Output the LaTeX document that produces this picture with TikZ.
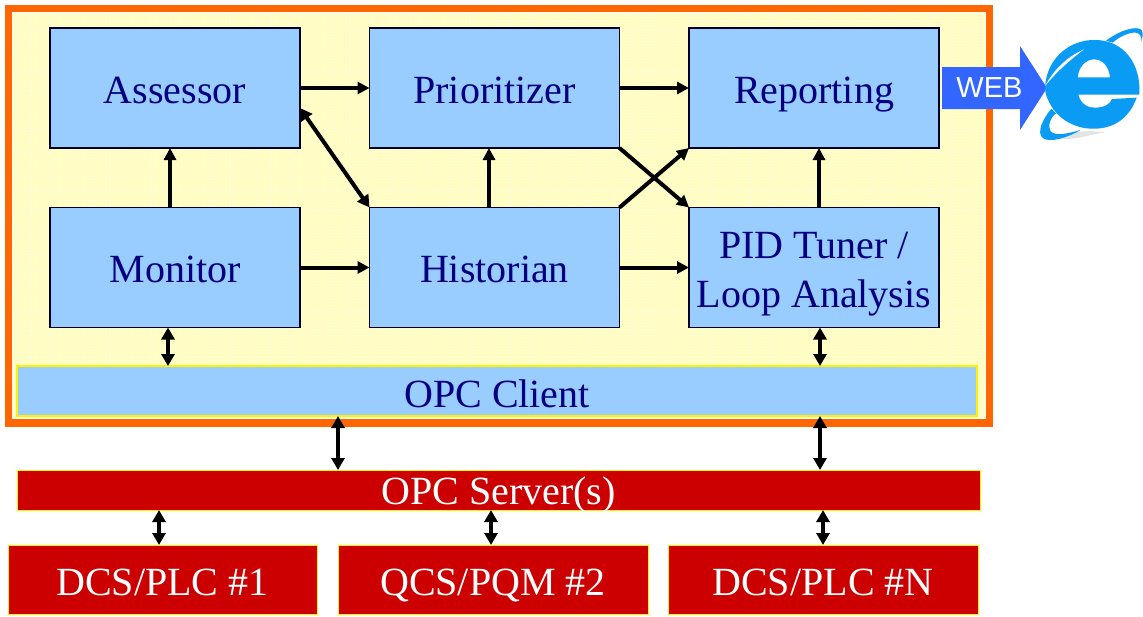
\documentclass[tikz,border=0pt]{standalone}
\usepackage{fontspec}
\setmainfont{Liberation Serif}
\newfontfamily\websans{Liberation Sans}
\usetikzlibrary{arrows.meta,patterns}
\definecolor{navytext}{HTML}{000080}
\definecolor{boxblue}{HTML}{99CCFF}
\definecolor{redbox}{HTML}{CC0000}
\definecolor{frameorange}{HTML}{FF6600}
\definecolor{paleyellow}{HTML}{FFFDBE}
\definecolor{ieblue}{HTML}{0A9BF5}
\definecolor{webblue}{HTML}{3366FF}
\tikzset{
  x=1pt,y=-1pt,
  lbl/.style={font=\fontsize{40}{49}\selectfont,text=navytext,align=center},
  oneline/.style={text height=32pt,text depth=0pt},
  modline/.style={text height=30pt,text depth=0pt},
  modbox/.style={lbl,draw=black!85!blue,line width=1.3pt,fill=boxblue,outer sep=0pt,inner sep=0pt,minimum width=250pt,minimum height=120pt},
  clientbox/.style={lbl,oneline,draw=yellow,line width=1.2pt,fill=boxblue,outer sep=0pt,inner sep=0pt},
  redstrip/.style={font=\fontsize{40}{49}\selectfont,text=white,draw=yellow,line width=1pt,fill=redbox,outer sep=0pt,inner sep=0pt},
  oneway/.style={line width=4pt,-{Triangle[length=12pt,width=12pt]}},
  twoway/.style={line width=4pt,{Triangle[length=12pt,width=13pt]}-{Triangle[length=12pt,width=13pt]}},
}
\begin{document}
\begin{tikzpicture}
\useasboundingbox (0,0) rectangle (1143,616);
% frame
\fill[white] (0,0) rectangle (1143,616);
\fill[frameorange] (5,5) rectangle (993,427);
\fill[white] (12,12) rectangle (986,419);
\fill[paleyellow] (13,13) rectangle (985,418);
\fill[pattern=crosshatch dots,pattern color=white!70!paleyellow] (13,13) rectangle (985,418);
\foreach \gx in {30,50,...,980} \draw[white!25!paleyellow,line width=.5pt] (\gx,13) -- (\gx,418);
\foreach \gy in {30,50,...,410} \draw[white!25!paleyellow,line width=.5pt] (13,\gy) -- (985,\gy);
% modules
\node[modbox,modline] (assessor) at (175,88) {Assessor};
\node[modbox,modline] (prior) at (494.5,88) {Prioritizer};
\node[modbox,modline] (report) at (814,88) {Reporting};
\node[modbox,modline] (monitor) at (175,267.5) {Monitor};
\node[modbox,modline] (hist) at (494.5,267.5) {Historian};
\node[modbox] (pid) at (814,267.5) {\parbox{245pt}{\centering\rule{0pt}{40pt}PID Tuner /\\Loop Analysis}};
\node[clientbox,minimum width=960pt,minimum height=50pt] (client) at (497,391) {OPC Client};
\node[redstrip,text height=28pt,text depth=0pt,minimum width=963pt,minimum height=40pt] (server) at (498.5,490) {OPC Server(s)};
\node[redstrip,oneline,minimum width=309pt,minimum height=69pt] (dcs1) at (162.5,579.5) {DCS/PLC \#1};
\node[redstrip,oneline,minimum width=310pt,minimum height=69pt] (qcs) at (493,579.5) {QCS/PQM \#2};
\node[redstrip,oneline,minimum width=310pt,minimum height=69pt] (dcsn) at (823,579.5) {DCS/PLC \#N};
% connectors
\draw[oneway] (assessor.east) -- (prior.west);
\draw[oneway] (prior.east) -- (report.west);
\draw[oneway] (monitor.east) -- (hist.west);
\draw[oneway] (hist.east) -- (pid.west);
\draw[oneway] ([xshift=-5pt]monitor.north) -- ([xshift=-5pt]assessor.south);
\draw[oneway] ([xshift=-5.5pt]hist.north) -- ([xshift=-5.5pt]prior.south);
\draw[oneway] ([xshift=5pt]pid.north) -- ([xshift=5pt]report.south);
\draw[oneway] (prior.south east) -- (pid.north west);
\draw[oneway] (hist.north east) -- (report.south west);
\draw[twoway] ([yshift=-20pt]assessor.east) -- (hist.north west);
\draw[twoway] ([xshift=-7pt]monitor.south) -- ([xshift=-329pt]client.north);
\draw[twoway] ([xshift=6pt]pid.south) -- ([xshift=323pt]client.north);
\draw[twoway] ([xshift=-159pt]client.south) -- ([xshift=-160.5pt]server.north);
\draw[twoway] ([xshift=323pt]client.south) -- ([xshift=321.5pt]server.north);
\draw[twoway] ([xshift=-339.5pt]server.south) -- ([xshift=-3.5pt]dcs1.north);
\draw[twoway] ([xshift=-7.5pt]server.south) -- ([xshift=-2pt]qcs.north);
\draw[twoway] ([xshift=324.5pt]server.south) -- (dcsn.north);
% WEB arrow
\fill[webblue] (942,67) -- (1020,67) -- (1020,46) -- (1047,88) -- (1020,130) -- (1020,109) -- (942,109) -- cycle;
\node[font=\websans\fontsize{29}{34}\selectfont,text=white,inner sep=0pt] (web) at (989.5,88) {WEB};
% browser logo
\begin{scope}[shift={(930,0)},scale=1/3]
\fill[black!18,opacity=.6] (350,412) .. controls (420,428) and (470,405) .. (525,397) .. controls (470,388) and (420,398) .. cycle;
% e body
\fill[ieblue,even odd rule]
  (345,262) .. controls (350,170) and (425,118) .. (495,120)
  .. controls (580,120) and (634,190) .. (628,284)
  -- (445,284) .. controls (452,312) and (475,325) .. (497,323)
  .. controls (525,322) and (540,312) .. (546,297)
  -- (620,293) .. controls (600,350) and (555,387) .. (490,386)
  .. controls (440,387) and (395,362) .. (370,328)
  .. controls (352,300) and (345,280) .. (345,262) -- cycle
  (443,232) .. controls (446,200) and (468,178) .. (492,178)
  .. controls (518,178) and (537,200) .. (540,232) -- cycle;
% white cut of the swoosh
\fill[white] (462,148) .. controls (412,170) and (372,208) .. (345,258)
  .. controls (380,215) and (420,180) .. (462,148) -- cycle;
% ring upper
\fill[ieblue] (528,122) .. controls (570,90) and (620,76) .. (635,90)
  .. controls (640,100) and (638,112) .. (634,125)
  .. controls (636,112) and (630,100) .. (618,98)
  .. controls (600,96) and (570,108) .. (548,128) -- cycle;
% ring lower
\fill[ieblue] (364,326) .. controls (336,360) and (320,398) .. (338,414)
  .. controls (360,430) and (415,412) .. (452,390)
  .. controls (415,400) and (378,410) .. (362,394)
  .. controls (352,380) and (360,352) .. (378,340) -- cycle;
\end{scope}
\end{tikzpicture}
\end{document}
